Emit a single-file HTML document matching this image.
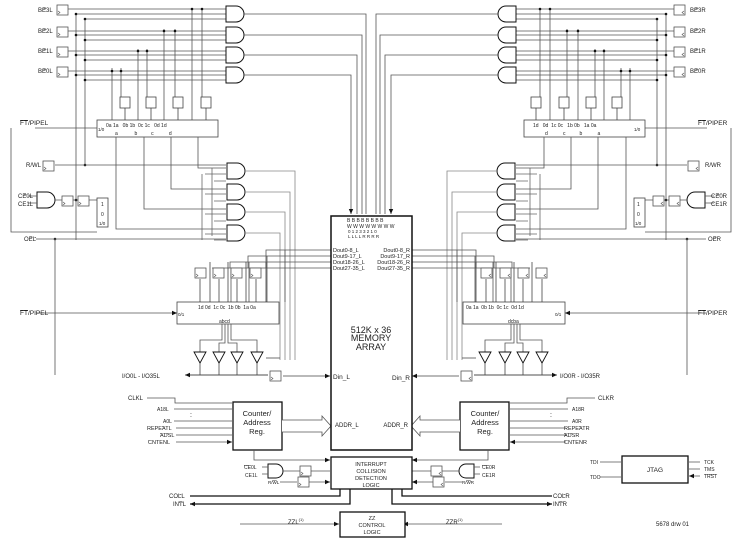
<!DOCTYPE html>
<html><head><style>
body{margin:0;background:#fff}
svg{display:block}
text{font-family:"Liberation Sans",sans-serif;fill:#222}
.o{text-decoration:overline}
</style></head><body>
<svg width="746" height="543" viewBox="0 0 746 543" xmlns="http://www.w3.org/2000/svg">
<defs>
<marker id="a" markerWidth="6" markerHeight="6" refX="5" refY="3" orient="auto" markerUnits="userSpaceOnUse"><path d="M0,0.8 L5,3 L0,5.2z" fill="#111"/></marker>
<path id="and" d="M0,0 h10 a8,8 0 0 1 0,16 h-10 z" fill="#fff" stroke="#111" stroke-width="1"/>
<path id="andS" d="M0,0 h8 a7,7 0 0 1 0,14 h-8 z" fill="#fff" stroke="#111" stroke-width="1"/>
<path id="buf" d="M0,0 h12 l-6,11 z" fill="#fff" stroke="#111" stroke-width="0.9"/>
<g id="ff"><rect x="0" y="0" width="11" height="10" fill="#fff" stroke="#555" stroke-width="0.8"/><path d="M1,6 l2,1.5 l-2,1.5" fill="none" stroke="#555" stroke-width="0.6"/></g>
</defs>
<g id="L" fill="none" stroke="#444" stroke-width="0.8">
 <g stroke="#555">
  <path d="M68,9 H226 M76,14 H226 M85,19 H226"/>
  <path d="M68,31 H226 M76,35 H226 M85,40 H226"/>
  <path d="M68,51 H226 M76,55 H226 M85,60 H226"/>
  <path d="M68,71 H226 M76,75 H226 M85,80 H226"/>
  <path d="M76,13 V240 M85,19 V165"/>
  <path d="M192,9 V120 M202,9 V97 M164,29 V120 M175,29 V97 M138,49 V120 M147,49 V97 M112,68 V120 M121,68 V97"/>
 </g>
 <g fill="#111" stroke="none">
  <circle cx="76" cy="14" r="1.3"/><circle cx="85" cy="19" r="1.3"/><circle cx="76" cy="35" r="1.3"/><circle cx="85" cy="40" r="1.3"/><circle cx="76" cy="55" r="1.3"/><circle cx="85" cy="60" r="1.3"/><circle cx="76" cy="75" r="1.3"/><circle cx="85" cy="80" r="1.3"/>
  <circle cx="192" cy="9" r="1.3"/><circle cx="202" cy="9" r="1.3"/><circle cx="164" cy="31" r="1.3"/><circle cx="175" cy="31" r="1.3"/><circle cx="138" cy="51" r="1.3"/><circle cx="147" cy="51" r="1.3"/><circle cx="112" cy="71" r="1.3"/><circle cx="121" cy="71" r="1.3"/>
  <circle cx="85" cy="165" r="1.3"/><circle cx="76" cy="200" r="1.3"/><circle cx="55" cy="239" r="1.3"/>
 </g>
 <use href="#ff" x="57" y="5"/><use href="#ff" x="57" y="27"/><use href="#ff" x="57" y="47"/><use href="#ff" x="57" y="67"/>
 <use href="#and" x="226" y="6"/><use href="#and" x="226" y="27"/><use href="#and" x="226" y="47"/><use href="#and" x="226" y="67"/>
 <path d="M244,14 H366 V214 M244,35 H362 V214 M244,55 H357 V214 M244,75 H351 V214" stroke="#555" marker-end="url(#a)"/>
 <rect x="120" y="97" width="10" height="11" fill="#fff"/><rect x="146" y="97" width="10" height="11" fill="#fff"/><rect x="173" y="97" width="10" height="11" fill="#fff"/><rect x="201" y="97" width="10" height="11" fill="#fff"/>
 <path d="M125,108 V120 M151,108 V120 M178,108 V120 M206,108 V120"/>
 <rect x="97" y="120" width="121" height="17" fill="#fff"/>
 <path d="M35,128 H97 M11,128 V232 H97" stroke="#555"/>
 <path d="M116,137 V229 H226 M144,137 V209 H226 M171,137 V189 H226 M198,137 V168 H226" stroke="#555"/>
 <path d="M55,165 H226" stroke="#555"/>
 <path d="M202,174 V240 M212,168 V236 M205,194 H226 M205,214 H226 M205,234 H226 M205,174 H226 M214,181 H226 M214,201 H226 M214,221 H226 M214,240 H226" stroke="#666"/>
 <use href="#ff" x="43" y="161"/>
 <use href="#and" x="227" y="163"/><use href="#and" x="227" y="184"/><use href="#and" x="227" y="204"/><use href="#and" x="227" y="225"/>
 <path d="M245,171 H295 V360 M245,192 H290 V360 M245,212 H285 V360 M245,233 H280 V360" stroke="#888"/>
 <use href="#and" x="37" y="192"/>
 <path d="M28,196 H37 M28,203 H37 M55,200 H62 M72,200 H78 M88,200 H97" stroke="#555"/>
 <use href="#ff" x="62" y="196"/><use href="#ff" x="78" y="196"/>
 <rect x="97" y="198" width="11" height="29" fill="#fff"/>
 <path d="M36,239 H226 M55,239 V375" stroke="#555"/>
 <path d="M331,250 H266 V268 M331,256 H248 V268 M331,262 H230 V268 M331,268 H212 V268" stroke="#555"/>
 <path d="M285,250 V302 M267,256 V302 M249,262 V302 M231,268 V302" stroke="#555"/>
 <use href="#ff" x="195" y="268"/><use href="#ff" x="213" y="268"/><use href="#ff" x="231" y="268"/><use href="#ff" x="250" y="268"/>
 <path d="M200,279 V302 M219,279 V302 M237,279 V302 M256,279 V302 M210,262 V302 M228,262 V302 M246,262 V302 M266,262 V302" stroke="#444"/>
 <rect x="177" y="302" width="102" height="22" fill="#fff"/>
 <path d="M36,313 H177" stroke="#555" marker-end="url(#a)"/>
 <path d="M222,324 V340 H200 V352 M225,324 V343 H219 V352 M228,324 V343 H237 V352 M231,324 V340 H257 V352" stroke="#555"/>
 <use href="#buf" x="194" y="352"/><use href="#buf" x="213" y="352"/><use href="#buf" x="231" y="352"/><use href="#buf" x="251" y="352"/>
 <path d="M200,363 V375 M219,363 V375 M237,363 V375 M257,363 V375 M266,358 H280 M190,375 H268" stroke="#444"/>
 <path d="M268,375 H185" marker-end="url(#a)"/>
 <use href="#ff" x="270" y="371"/>
 <path d="M283,376 H330" marker-end="url(#a)"/>
 <path d="M147,398 H175 V403 H232 M174,409 H232 M174,421 H232 M176,428 H232 M176,435 H232 M176,442 H232" stroke="#555" marker-end="url(#a)"/>
 <rect x="233" y="402" width="49" height="48" fill="#fff" stroke="#111" stroke-width="1.3"/>
 <path d="M282,420 H322 V416 L331,426 L322,436 V432 H282" fill="#fff" stroke="#555"/>
 <path d="M254,450 V460 H330" stroke="#555" marker-end="url(#a)"/>
 <use href="#andS" x="268" y="464"/>
 <path d="M262,467 H268 M262,474 H268 M283,471 H300 M280,482 H297" stroke="#555"/>
 <use href="#ff" x="300" y="466"/><use href="#ff" x="298" y="477"/>
 <path d="M311,471 H330 M309,482 H330" stroke="#555" marker-end="url(#a)"/>
 <path d="M340,489 V496 H190 M350,489 V504 H190" stroke="#111" stroke-width="1.3" marker-end="url(#a)"/>
 <path d="M240,524 H339" stroke="#555" marker-end="url(#a)"/>
</g>
<use href="#L" transform="translate(742,0) scale(-1,1)"/>
<rect x="331" y="216" width="81" height="234" fill="#fff" stroke="#111" stroke-width="1.5"/>
<rect x="331" y="457" width="81" height="32" fill="#fff" stroke="#111" stroke-width="1.3"/>
<rect x="340" y="512" width="65" height="25" fill="#fff" stroke="#111" stroke-width="1.3"/>
<rect x="622" y="456" width="66" height="27" fill="#fff" stroke="#111" stroke-width="1.3"/>
<g fill="none" stroke="#555" stroke-width="0.8">
<path d="M600,462 H621 M621,477 H600 M700,462 H689 M700,469 H689 M700,476 H689" marker-end="url(#a)"/>
</g>
<g font-size="6">
<text x="38" y="12"><tspan class="o">BE</tspan>3L</text><text x="38" y="33"><tspan class="o">BE</tspan>2L</text><text x="38" y="53"><tspan class="o">BE</tspan>1L</text><text x="38" y="73"><tspan class="o">BE</tspan>0L</text>
<text x="690" y="12"><tspan class="o">BE</tspan>3R</text><text x="690" y="33"><tspan class="o">BE</tspan>2R</text><text x="690" y="53"><tspan class="o">BE</tspan>1R</text><text x="690" y="73"><tspan class="o">BE</tspan>0R</text>
<text x="20" y="125" font-size="6.5"><tspan class="o">FT</tspan>/PIPEL</text><text x="698" y="125" font-size="6.5"><tspan class="o">FT</tspan>/PIPER</text>
<text x="20" y="315" font-size="6.5"><tspan class="o">FT</tspan>/PIPEL</text><text x="698" y="315" font-size="6.5"><tspan class="o">FT</tspan>/PIPER</text>
<text x="26" y="167">R/<tspan class="o">W</tspan>L</text><text x="705" y="167">R/<tspan class="o">W</tspan>R</text>
<text x="18" y="198"><tspan class="o">CE</tspan>0L</text><text x="18" y="206">CE1L</text><text x="711" y="198"><tspan class="o">CE</tspan>0R</text><text x="711" y="206">CE1R</text>
<text x="24" y="241" class="o">OEL</text><text x="708" y="241" class="o">OER</text>
<text x="106" y="127" font-size="5">0a 1a &#160;&#160;0b 1b &#160;0c 1c &#160;&#160;0d 1d</text>
<text x="98" y="131" font-size="4.5">1/0</text>
<text x="115" y="135" font-size="5">a &#160;&#160;&#160;&#160;&#160;&#160;&#160;&#160;&#160;&#160;&#160;b &#160;&#160;&#160;&#160;&#160;&#160;&#160;&#160;&#160;c &#160;&#160;&#160;&#160;&#160;&#160;&#160;&#160;&#160;&#160;d</text>
<text x="533" y="127" font-size="5">1d &#160;&#160;0d &#160;1c 0c &#160;&#160;1b 0b &#160;&#160;1a 0a</text>
<text x="545" y="135" font-size="5">d &#160;&#160;&#160;&#160;&#160;&#160;&#160;&#160;&#160;&#160;c &#160;&#160;&#160;&#160;&#160;&#160;&#160;&#160;&#160;b &#160;&#160;&#160;&#160;&#160;&#160;&#160;&#160;&#160;&#160;a</text>
<text x="634" y="131" font-size="4.5">1/0</text>
<text x="101" y="206" font-size="5">1</text><text x="101" y="216" font-size="5">0</text><text x="99" y="225" font-size="4.5">1/0</text>
<text x="637" y="206" font-size="5">1</text><text x="637" y="216" font-size="5">0</text><text x="635" y="225" font-size="4.5">1/0</text>
<text x="198" y="309" font-size="5">1d 0d &#160;1c 0c &#160;1b 0b &#160;1a 0a</text>
<text x="178" y="316" font-size="4.5">0/1</text><text x="219" y="323" font-size="5">abcd</text>
<text x="466" y="309" font-size="5">0a 1a &#160;0b 1b &#160;0c 1c &#160;0d 1d</text>
<text x="555" y="316" font-size="4.5">0/1</text><text x="508" y="323" font-size="5">dcba</text>
<text x="347" y="222" font-size="5">B B B B B B B B</text>
<text x="347" y="228" font-size="5">W W W W W W W W</text>
<text x="348" y="233" font-size="4.5">0 1 2 3 3 2 1 0</text>
<text x="348" y="238" font-size="4.5">L L L L R R R R</text>
<text x="333" y="252" font-size="5.5">Dout0-8_L</text><text x="333" y="258" font-size="5.5">Dout9-17_L</text><text x="333" y="264" font-size="5.5">Dout18-26_L</text><text x="333" y="270" font-size="5.5">Dout27-35_L</text>
<text x="410" y="252" font-size="5.5" text-anchor="end">Dout0-8_R</text><text x="410" y="258" font-size="5.5" text-anchor="end">Dout9-17_R</text><text x="410" y="264" font-size="5.5" text-anchor="end">Dout18-26_R</text><text x="410" y="270" font-size="5.5" text-anchor="end">Dout27-35_R</text>
<text x="371" y="333" font-size="9" text-anchor="middle">512K x 36</text>
<text x="371" y="341" font-size="9" text-anchor="middle">MEMORY</text>
<text x="371" y="350" font-size="9" text-anchor="middle">ARRAY</text>
<text x="333" y="379" font-size="6.5">Din_L</text><text x="410" y="380" font-size="6.5" text-anchor="end">Din_R</text>
<text x="335" y="427" font-size="6">ADDR_L</text><text x="408" y="427" font-size="6" text-anchor="end">ADDR_R</text>
<text x="122" y="378" font-size="6">I/O0L - I/O35L</text><text x="560" y="378" font-size="6">I/O0R - I/O35R</text>
<text x="128" y="400" font-size="6">CLKL</text><text x="598" y="400" font-size="6">CLKR</text>
<text x="157" y="411" font-size="5">A18L</text><text x="572" y="411" font-size="5">A18R</text>
<text x="190" y="417" font-size="7">:</text><text x="550" y="417" font-size="7">:</text>
<text x="163" y="423" font-size="5">A0L</text><text x="572" y="423" font-size="5">A0R</text>
<text x="147" y="430" font-size="5.5"><tspan class="o">REPEAT</tspan>L</text><text x="564" y="430" font-size="5.5"><tspan class="o">REPEAT</tspan>R</text>
<text x="160" y="437" font-size="5.5"><tspan class="o">ADS</tspan>L</text><text x="564" y="437" font-size="5.5"><tspan class="o">ADS</tspan>R</text>
<text x="148" y="444" font-size="5.5"><tspan class="o">CNTEN</tspan>L</text><text x="564" y="444" font-size="5.5"><tspan class="o">CNTEN</tspan>R</text>
<text x="257" y="416" font-size="7.5" text-anchor="middle">Counter/</text><text x="257" y="425" font-size="7.5" text-anchor="middle">Address</text><text x="257" y="434" font-size="7.5" text-anchor="middle">Reg.</text>
<text x="485" y="416" font-size="7.5" text-anchor="middle">Counter/</text><text x="485" y="425" font-size="7.5" text-anchor="middle">Address</text><text x="485" y="434" font-size="7.5" text-anchor="middle">Reg.</text>
<text x="371" y="466" font-size="5.5" text-anchor="middle">INTERRUPT</text><text x="371" y="473" font-size="5.5" text-anchor="middle">COLLISION</text><text x="371" y="480" font-size="5.5" text-anchor="middle">DETECTION</text><text x="371" y="487" font-size="5.5" text-anchor="middle">LOGIC</text>
<text x="244" y="469" font-size="5"><tspan class="o">CE</tspan>0L</text><text x="245" y="477" font-size="5">CE1L</text><text x="268" y="484" font-size="4.5">R/<tspan class="o">W</tspan>L</text>
<text x="482" y="469" font-size="5"><tspan class="o">CE</tspan>0R</text><text x="482" y="477" font-size="5">CE1R</text><text x="462" y="484" font-size="4.5">R/<tspan class="o">W</tspan>R</text>
<text x="169" y="498" font-size="6"><tspan class="o">COL</tspan>L</text><text x="173" y="506" font-size="6"><tspan class="o">INT</tspan>L</text>
<text x="553" y="498" font-size="6"><tspan class="o">COL</tspan>R</text><text x="553" y="506" font-size="6"><tspan class="o">INT</tspan>R</text>
<text x="288" y="524" font-size="6">ZZL<tspan font-size="4" dy="-3">(1)</tspan></text>
<text x="446" y="524" font-size="6">ZZR<tspan font-size="4" dy="-3">(1)</tspan></text>
<text x="372" y="520" font-size="5.5" text-anchor="middle">ZZ</text><text x="372" y="527" font-size="5.5" text-anchor="middle">CONTROL</text><text x="372" y="534" font-size="5.5" text-anchor="middle">LOGIC</text>
<text x="655" y="472" font-size="6.5" text-anchor="middle">JTAG</text>
<text x="590" y="464" font-size="5">TDI</text><text x="590" y="479" font-size="5">TDO</text>
<text x="704" y="464" font-size="5">TCK</text><text x="704" y="471" font-size="5">TMS</text><text x="704" y="478" font-size="5"><tspan class="o">TRST</tspan></text>
<text x="656" y="526" font-size="6">5678 drw 01</text>
</g>
</svg>
</body></html>
